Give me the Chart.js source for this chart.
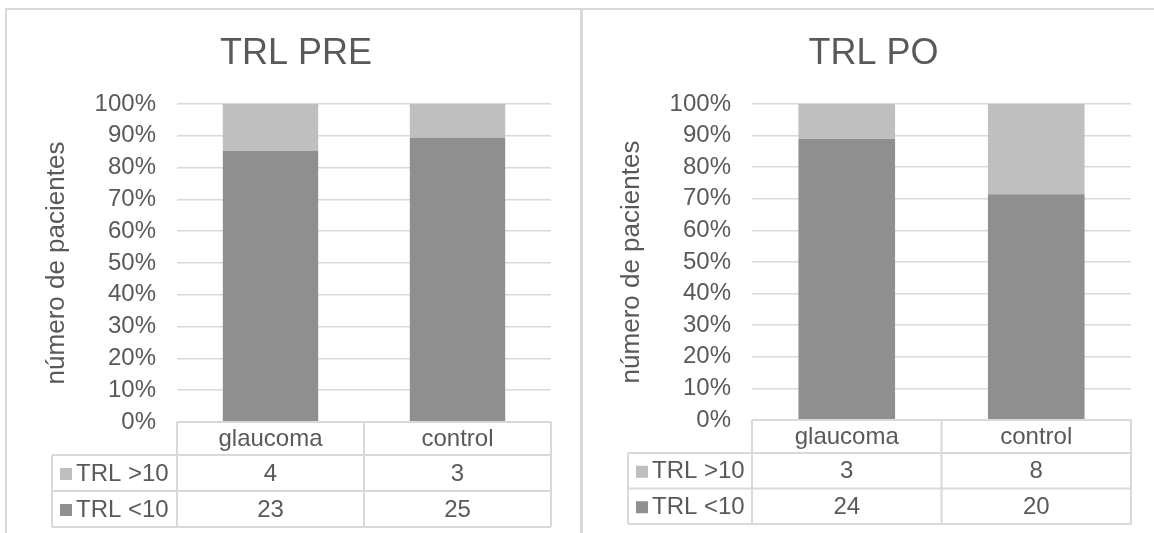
<!DOCTYPE html>
<html>
<head>
<meta charset="utf-8">
<script src="https://cdn.jsdelivr.net/npm/chart.js@4/dist/chart.umd.min.js"></script>
<style>
  html, body { margin: 0; padding: 0; background: #fff; }
  body { width: 1154px; height: 533px; position: relative; overflow: hidden; }
  .panel { position: absolute; top: 0; height: 533px; }
  .rule { position: absolute; background: #d9d9d9; }
</style>
</head>
<body>
<div class="panel" style="left:0;width:581px"><canvas id="cPre" width="581" height="533"></canvas></div>
<div class="panel" style="left:581px;width:573px"><canvas id="cPo" width="573" height="533"></canvas></div>
<!-- sheet frame: top rule, left rule, divider between the two charts -->
<div class="rule" style="left:5px;top:8px;width:1149px;height:2px"></div>
<div class="rule" style="left:5px;top:8px;width:2px;height:525px"></div>
<div class="rule" style="left:580px;top:8px;width:3px;height:525px"></div>

<script>
// patient counts per group, before (PRE) and after (PO)
const categories = ["glaucoma", "control"];
const labelOver = "TRL >10";
const labelUnder = "TRL <10";
const preOver10 = [4, 3];
const preUnder10 = [23, 25];
const poOver10 = [3, 8];
const poUnder10 = [24, 20];

const FONT = "'Liberation Sans', Arial, sans-serif";
const TXT = "#595959";
const LINE = "#d9d9d9";
const DARK = "#8f8f8f";
const LIGHT = "#bfbfbf";

// share of each group, as Excel's 100% stacked bars do
const pct = (part, a, b) => part.map((v, i) => v / (a[i] + b[i]) * 100);

// data table under the plot: category header row + one row per series
const dataTable = {
  id: "dataTable",
  afterDraw(chart, args, o) {
    const { ctx, chartArea: a, scales: { x } } = chart;
    const n = chart.data.labels.length;
    const colW = (x.right - x.left) / n;
    const y0 = a.bottom, y1 = y0 + o.headH, y2 = y1 + o.rowH, y3 = y2 + o.rowH;
    const seg = (xa, ya, xb, yb) => { ctx.beginPath(); ctx.moveTo(xa, ya); ctx.lineTo(xb, yb); ctx.stroke(); };

    ctx.save();
    ctx.strokeStyle = LINE;
    ctx.lineWidth = 2;
    seg(x.left, y0, x.right, y0);
    seg(o.left, y1, x.right, y1);
    seg(o.left, y2, x.right, y2);
    seg(o.left, y3, x.right, y3);
    seg(o.left, y1, o.left, y3);
    for (let i = 0; i <= n; i++) seg(x.left + i * colW, y0, x.left + i * colW, y3);

    ctx.fillStyle = TXT;
    ctx.font = "24px " + FONT;
    ctx.textBaseline = "middle";
    ctx.textAlign = "center";
    chart.data.labels.forEach((lab, i) => ctx.fillText(lab, x.getPixelForValue(i), (y0 + y1) / 2 + 1));

    o.rows.forEach((r, k) => {
      const top = y1 + k * o.rowH, mid = top + o.rowH / 2 + 1;
      ctx.fillStyle = r.color;
      ctx.fillRect(o.left + 8, mid - 6, 12, 12);
      ctx.fillStyle = TXT;
      ctx.textAlign = "left";
      ctx.fillText(r.name, o.left + 24, mid);
      ctx.textAlign = "center";
      r.counts.forEach((c, i) => ctx.fillText(String(c), x.getPixelForValue(i), mid));
    });
    ctx.restore();
  },
};

function makePanel(id, title, over, under, g) {
  return new Chart(document.getElementById(id), {
    type: "bar",
    data: {
      labels: categories,
      datasets: [
        { label: labelUnder, data: pct(under, under, over), backgroundColor: DARK },
        { label: labelOver, data: pct(over, under, over), backgroundColor: LIGHT },
      ],
    },
    options: {
      responsive: false,
      animation: false,
      events: [],
      barPercentage: 0.51,
      categoryPercentage: 1,
      layout: { padding: { left: g.padL, right: g.padR, top: 0, bottom: g.padB } },
      plugins: {
        legend: { display: false },
        tooltip: { enabled: false },
        title: {
          display: true, text: title, color: TXT,
          font: { family: FONT, size: 36, weight: "normal" },
          padding: { top: 32.4, bottom: 28.4 },
        },
        dataTable: {
          left: g.tableL, headH: 33, rowH: g.rowH,
          rows: [
            { name: labelOver, color: LIGHT, counts: over },
            { name: labelUnder, color: DARK, counts: under },
          ],
        },
      },
      scales: {
        x: { stacked: true, display: false },
        y: {
          stacked: true, min: 0, max: 100,
          afterFit: s => { s.width = g.plotL - g.padL; },
          border: { display: false },
          grid: { color: LINE, lineWidth: 1.5, drawTicks: false },
          ticks: {
            stepSize: 10, autoSkip: false, padding: 21, color: TXT,
            font: { family: FONT, size: 24 },
            callback: v => v + "%",
          },
          title: {
            display: true, text: "número de pacientes", color: TXT,
            font: { family: FONT, size: 26 }, padding: 0,
          },
        },
      },
    },
    plugins: [dataTable],
  });
}

makePanel("cPre", "TRL PRE", preOver10, preUnder10,
  { padL: 41, padR: 30, padB: 111, plotL: 177, tableL: 52, rowH: 36 });
makePanel("cPo", "TRL PO", poOver10, poUnder10,
  { padL: 35, padR: 23, padB: 113, plotL: 171, tableL: 47, rowH: 35.5 });
</script>
</body>
</html>
